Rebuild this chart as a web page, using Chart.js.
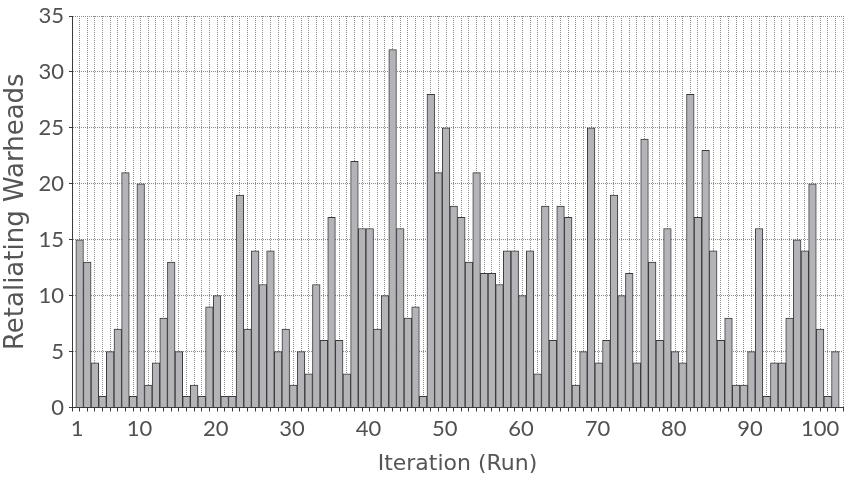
<!DOCTYPE html>
<html>
<head>
<meta charset="utf-8">
<script src="https://cdn.jsdelivr.net/npm/chart.js@4.4.1/dist/chart.umd.min.js"></script>
<style>
html,body{margin:0;padding:0;background:#ffffff;}
#wrap{width:849px;height:479px;}
</style>
</head>
<body>
<div id="wrap"><canvas id="c" width="849" height="479"></canvas></div>
<script>
// ---- data ----
const runs = [];
for (let i = 1; i <= 100; i++) runs.push(i);
const warheads = [
  15,13,4,1,5,7,21,1,20,2,
  4,8,13,5,1,2,1,9,10,1,
  1,19,7,14,11,14,5,7,2,5,
  3,11,6,17,6,3,22,16,16,7,
  10,32,16,8,9,1,28,21,25,18,
  17,13,21,12,12,11,14,14,10,14,
  3,18,6,18,17,2,5,25,4,6,
  19,10,12,4,24,13,6,16,5,4,
  28,17,23,14,6,8,2,2,5,16,
  1,4,4,8,15,14,20,7,1,5
];
const xTickLabels = [1,10,20,30,40,50,60,70,80,90,100];
const yTickMin = 0, yTickMax = 35, yTickStep = 5;
const xTitle = 'Iteration (Run)';
const yTitle = 'Retaliating Warheads';

// ---- styling ----
const TICKFONT = 'Lato, "Noto Sans", sans-serif';
const TITLEFONT = '"DejaVu Sans", sans-serif';
const TXT = '#505050';
const GRID = '#8a8a8a';
const AXIS = '#3a3a3a';

const labelAt = new Map(xTickLabels.map(k => [k + 0.5, String(k)]));
const boundaries = [];
for (let i = 0; i <= runs.length; i++) boundaries.push(runs[0] - 0.5 + i);

new Chart(document.getElementById('c'), {
  type: 'bar',
  data: {
    datasets: [{
      data: runs.map((r, i) => ({x: r, y: warheads[i]})),
      backgroundColor: '#b4b4b8',
      borderColor: '#3a3a3a',
      borderWidth: 1,
      barPercentage: 1,
      categoryPercentage: 1
    }]
  },
  options: {
    responsive: false,
    animation: false,
    layout: {padding: {top: 16, right: 6, left: 0, bottom: 0}},
    plugins: {legend: {display: false}, tooltip: {enabled: false}},
    scales: {
      x: {
        type: 'linear',
        min: runs[0] - 0.5,
        max: runs[runs.length - 1] + 0.5,
        afterBuildTicks: s => { s.ticks = boundaries.map(v => ({value: v})); },
        afterFit: s => { s.height = 71.5; s.paddingLeft = 0; s.paddingRight = 0; },
        ticks: {
          autoSkip: false, maxRotation: 0, minRotation: 0, align: 'end',
          padding: 4, color: TXT,
          font: {family: TICKFONT, size: 22, weight: 400},
          callback: v => labelAt.has(v) ? labelAt.get(v) : ''
        },
        grid: {color: GRID, lineWidth: 1, drawTicks: true, tickLength: 4,
               tickColor: AXIS, tickWidth: 1, tickBorderDash: []},
        border: {display: true, color: AXIS, width: 1, dash: [1, 1]},
        title: {display: true, text: xTitle, color: '#555555',
                font: {family: TITLEFONT, size: 22, weight: 400}, padding: {top: 0, bottom: 2}}
      },
      y: {
        min: yTickMin, max: yTickMax,
        afterFit: s => { s.width = 72; s.paddingTop = 0; s.paddingBottom = 0; },
        ticks: {stepSize: yTickStep, padding: 5, color: TXT,
                font: {family: TICKFONT, size: 22, weight: 400}},
        grid: {color: GRID, lineWidth: 1, drawTicks: true, tickLength: 3,
               tickColor: AXIS, tickWidth: 1, tickBorderDash: []},
        border: {display: true, color: AXIS, width: 1, dash: [1, 1]},
        title: {display: true, text: yTitle, color: '#555555',
                font: {family: TITLEFONT, size: 26, weight: 400}, padding: {top: 1, bottom: 0}}
      }
    }
  }
});
</script>
</body>
</html>
